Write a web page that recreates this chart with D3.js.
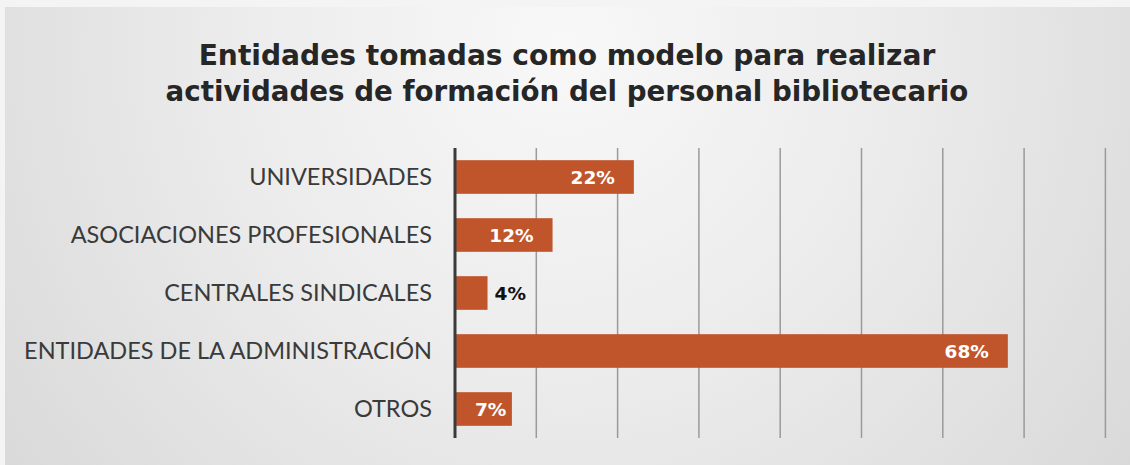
<!DOCTYPE html>
<html>
<head>
<meta charset="utf-8">
<script src="https://cdn.jsdelivr.net/npm/d3@7/dist/d3.min.js"></script>
<style>
  html, body { margin: 0; padding: 0; background: #ffffff; }
  svg { display: block; }
</style>
</head>
<body>
<svg id="chart" width="1130" height="465"></svg>
<script>
// Chart data
const titleLines = [
  "Entidades tomadas como modelo para realizar",
  "actividades de formación del personal bibliotecario"
];
const categories = [
  "UNIVERSIDADES",
  "ASOCIACIONES PROFESIONALES",
  "CENTRALES SINDICALES",
  "ENTIDADES DE LA ADMINISTRACIÓN",
  "OTROS"
];
const values = [22, 12, 4, 68, 7];
const gridTicks = [0, 10, 20, 30, 40, 50, 60, 70, 80];

const W = 1130, H = 465;
const svg = d3.select("#chart");

// Slide background with a soft light-centre gradient
const defs = svg.append("defs");
const grad = defs.append("radialGradient")
  .attr("id", "bg")
  .attr("gradientUnits", "userSpaceOnUse")
  .attr("cx", 565).attr("cy", 60).attr("r", 720)
  .attr("fx", 565).attr("fy", 40);
grad.append("stop").attr("offset", "0").attr("stop-color", "#f8f8f8");
grad.append("stop").attr("offset", "0.45").attr("stop-color", "#ececec");
grad.append("stop").attr("offset", "1").attr("stop-color", "#d8d8d8");

svg.append("rect").attr("x", 0).attr("y", 0).attr("width", W).attr("height", H).attr("fill", "#f4f4f4");
svg.append("rect").attr("x", 5).attr("y", 7).attr("width", W - 5).attr("height", H - 7).attr("fill", "url(#bg)");

// Title
const title = svg.append("g").attr("font-family", "'DejaVu Sans', sans-serif")
  .attr("font-weight", "bold").attr("fill", "#262626").attr("text-anchor", "middle");
const titleTargets = [737, 803];
titleLines.forEach((t, i) => {
  const el = title.append("text").attr("x", 567).attr("y", 65 + i * 36)
    .attr("font-size", 27).text(t);
  const w = el.node().getComputedTextLength();
  el.attr("font-size", 27 * titleTargets[i] / w);
});

// Plot area
const plotLeft = 455, plotRight = plotLeft + 813 * 0.8;
const plotTop = 148, plotBottom = 438;

const x = d3.scaleLinear().domain([0, 80]).range([plotLeft, plotRight]);
const y = d3.scaleBand().domain(categories).range([plotTop, plotBottom]).paddingInner(0.42).paddingOuter(0.21);

// Vertical gridlines
svg.append("g").selectAll("line").data(gridTicks.slice(1)).join("line")
  .attr("x1", d => x(d)).attr("x2", d => x(d))
  .attr("y1", plotTop).attr("y2", plotBottom)
  .attr("stroke", "#9a9a9a").attr("stroke-width", 1.5);

// Bars
svg.append("g").selectAll("rect").data(values).join("rect")
  .attr("x", x(0))
  .attr("y", (d, i) => y(categories[i]))
  .attr("width", d => x(d) - x(0))
  .attr("height", y.bandwidth())
  .attr("fill", "#c0552c");

// Category axis line
svg.append("line").attr("x1", x(0)).attr("x2", x(0)).attr("y1", plotTop).attr("y2", plotBottom)
  .attr("stroke", "#3a3a3a").attr("stroke-width", 3);

// Category labels
const labels = svg.append("g").attr("font-family", "Lato, 'Open Sans', sans-serif")
  .attr("fill", "#3a3a3a").attr("text-anchor", "end");
labels.selectAll("text").data(categories).join("text")
  .attr("x", 432)
  .attr("y", d => y(d) + y.bandwidth() / 2)
  .attr("dy", "0.36em")
  .attr("font-size", 23.5)
  .text(d => d);

// Value labels: inside the bar end when they fit, otherwise just outside
const vl = svg.append("g").attr("font-family", "'DejaVu Sans', sans-serif")
  .attr("font-weight", "bold").attr("font-size", 18.5);
values.forEach((v, i) => {
  const t = vl.append("text")
    .attr("y", y(categories[i]) + y.bandwidth() / 2)
    .attr("dy", "0.36em")
    .text(v + "%");
  const tw = t.node().getComputedTextLength();
  const bw = x(v) - x(0);
  if (bw - tw > 12) {
    const pad = Math.max(3, Math.min(19, bw - tw - 20));
    t.attr("x", x(v) - pad).attr("text-anchor", "end").attr("fill", "#ffffff");
  } else {
    t.attr("x", x(v) + 7).attr("text-anchor", "start").attr("fill", "#111111");
  }
});
</script>
</body>
</html>
